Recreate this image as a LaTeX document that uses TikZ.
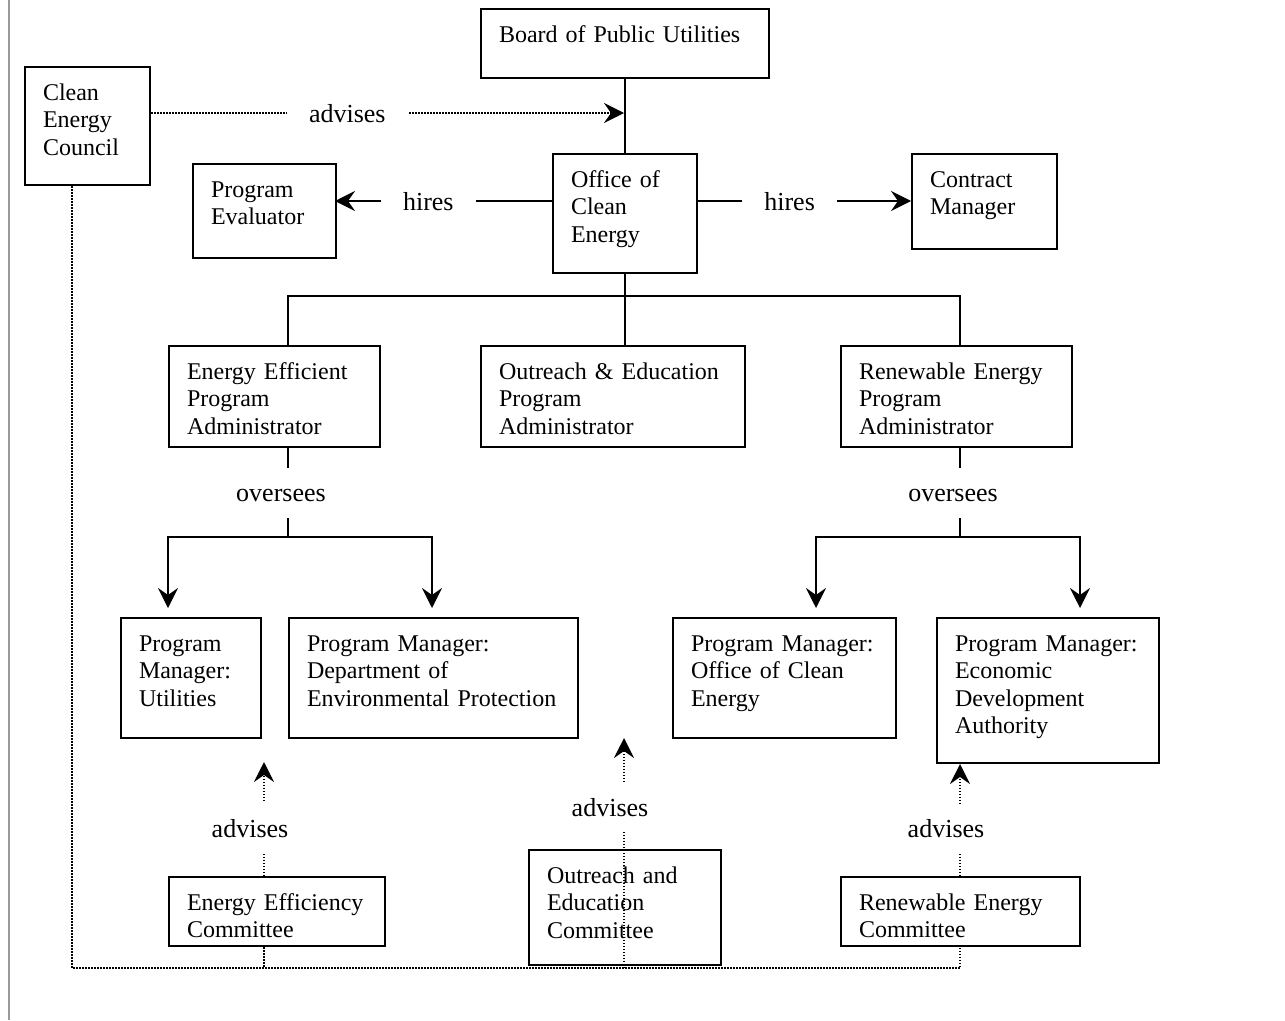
\documentclass[tikz,border=0pt]{standalone}
\usepackage{fontspec}
\setmainfont{Liberation Serif}
\usepackage{tikz}
\usetikzlibrary{arrows.meta}

\newcommand{\boxtextfont}{\fontsize{24}{27.5}\selectfont}
\newcommand{\lbltextfont}{\fontsize{26}{30}\selectfont}

\begin{document}
\begin{tikzpicture}[
    x=1pt, y=-1pt,
    box/.style={rectangle, draw, line width=2pt, fill=white, anchor=north west,
                align=left, inner xsep=18pt, inner ysep=0pt, text height=33pt,
                font=\boxtextfont},
    lbl/.style={fill=white, font=\lbltextfont, inner xsep=22pt, inner ysep=16pt,
                text height=18pt, text depth=0pt},
    link/.style={line width=2pt},
    arrow/.style={link, -{Stealth[length=20pt, width=20pt, inset=7pt]}},
    dots/.style={line width=2pt, dash pattern=on 1.5pt off 1.5pt},
    advarrow/.style={dots, -{Stealth[length=20pt, width=20pt, inset=7pt]}}
]
    \useasboundingbox (0,0) rectangle (1285,1020);
    \draw[black!40, line width=2pt] (9,0) -- (9,1020);

    % Board, council and office
    \node[box, text width=252pt, text depth=36pt] (bpu) at (480,8)   {Board of Public Utilities};
    \node[box, text width=89pt,  text depth=85pt] (cec) at (24,66)   {Clean\\Energy\\Council};
    \node[box, text width=107pt, text depth=61pt] (pev) at (192,163) {Program\\Evaluator};
    \node[box, text width=108pt, text depth=86pt] (oce) at (552,153) {Office of\\Clean\\Energy};
    \node[box, text width=109pt, text depth=62pt] (ctm) at (911,153) {Contract\\Manager};

    % Program administrators
    \node[box, text width=175pt, text depth=68pt] (eepa) at (168,345) {Energy Efficient\\Program\\Administrator};
    \node[box, text width=228pt, text depth=68pt] (oepa) at (480,345) {Outreach \& Education\\Program\\Administrator};
    \node[box, text width=195pt, text depth=68pt] (repa) at (840,345) {Renewable Energy\\Program\\Administrator};

    % Program managers
    \node[box, text width=104pt, text depth=87pt]  (pmu) at (120,617) {Program\\Manager:\\Utilities};
    \node[box, text width=253pt, text depth=87pt]  (pmd) at (288,617) {Program Manager:\\Department of\\Environmental Protection};
    \node[box, text width=187pt, text depth=87pt]  (pmo) at (672,617) {Program Manager:\\Office of Clean\\Energy};
    \node[box, text width=186pt, text depth=112pt] (pme) at (936,617) {Program Manager:\\Economic\\Development\\Authority};

    % Committees
    \node[box, text width=180pt, text depth=36pt] (eec) at (168,876) {Energy Efficiency\\Committee};
    \node[box, text width=156pt, text depth=82pt] (oec) at (528,849) {Outreach and\\Education\\Committee};
    \node[box, text width=203pt, text depth=36pt] (rec) at (840,876) {Renewable Energy\\Committee};

    % Top connectors
    \coordinate (advtop) at (624,113);
    \coordinate (hirel) at (335,201);
    \coordinate (hirer) at (911,201);
    \draw[link] (bpu) -- (oce);
    \draw[advarrow] (cec.east |- advtop) -- node[lbl, pos=.415] {advises} (advtop);
    \draw[arrow] (oce.west |- hirel) -- node[lbl, pos=.57] {hires} (hirel);
    \draw[arrow] (oce.east |- hirer) -- node[lbl, pos=.43] {hires} (hirer);

    \coordinate (busl) at (288,296);
    \coordinate (busr) at (960,296);
    \draw[link] (oce.south) -- (oce.south |- busl);
    \draw[link] (busl |- eepa.north) -- (busl) -- (busr) -- (busr |- repa.north);
    \draw[link] (oce.south |- busl) -- (oce.south |- oepa.north);

    % Oversees branches
    \coordinate (eej) at (288,537);
    \coordinate (eel) at (168,537);
    \coordinate (eer) at (432,537);
    \draw[link] (eepa.south -| eej) -- node[lbl, xshift=-7pt] {oversees} (eej);
    \draw[arrow, shorten >=9pt] (eej) -- (eel) -- (eel |- pmu.north);
    \draw[arrow, shorten >=9pt] (eej) -- (eer) -- (eer |- pmd.north);

    \coordinate (rej) at (960,537);
    \coordinate (rel) at (816,537);
    \coordinate (rer) at (1080,537);
    \draw[link] (repa.south -| rej) -- node[lbl, xshift=-7pt] {oversees} (rej);
    \draw[arrow, shorten >=9pt] (rej) -- (rel) -- (rel |- pmo.north);
    \draw[arrow, shorten >=9pt] (rej) -- (rer) -- (rer |- pme.north);

    % Council and committees advise
    \coordinate (cbl) at (72,968);
    \coordinate (cbr) at (960,968);
    \coordinate (advl) at (264,762);
    \coordinate (advm) at (624,738);
    \draw[dots] (cec.south -| cbl) -- (cbl) -- (cbr) -- (cbr |- rec.south);
    \draw[dots] (eec.south -| advl) -- (advl |- cbl);
    \draw[advarrow] (eec.north -| advl) -- node[lbl, pos=.42, xshift=-14pt] {advises} (advl);
    \draw[advarrow] (advm |- cbl) -- node[lbl, pos=.7, xshift=-14pt] {advises} (advm);
    \draw[advarrow] (rec.north -| cbr) -- node[lbl, pos=.42, xshift=-14pt] {advises} (cbr |- pme.south);

\end{tikzpicture}
\end{document}
